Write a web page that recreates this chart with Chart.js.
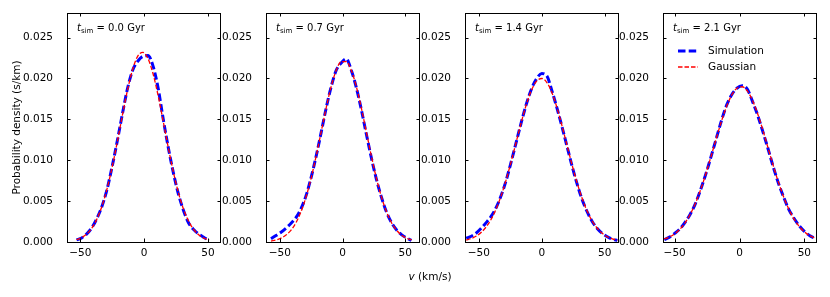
<!DOCTYPE html>
<html>
<head>
<meta charset="utf-8">
<script src="https://cdn.jsdelivr.net/npm/chart.js@4.4.0/dist/chart.umd.min.js"></script>
<style>
body { margin: 0; background: #fff; }
#fig { position: relative; width: 830px; height: 297px; font-family: "DejaVu Sans"; color: #000; }
#fig canvas { position: absolute; top: 0; }
#xlabel { position: absolute; left: 380px; width: 100px; top: 270px; text-align: center; font-size: 10.5px; }
</style>
</head>
<body>
<div id="fig">
  <canvas id="p0" width="223" height="297"></canvas>
  <canvas id="p1" width="223" height="297"></canvas>
  <canvas id="p2" width="223" height="297"></canvas>
  <canvas id="p3" width="223" height="297"></canvas>
  <div id="xlabel"><i>v</i> (km/s)</div>
</div>
<script>
// Velocity distributions at four simulation times
const times = ['0.0', '0.7', '1.4', '2.1'];
const xTicks = [-50, 0, 50];
const yTicks = [0, 0.005, 0.010, 0.015, 0.020, 0.025];

const v0 = [-53, -49, -45, -41, -37, -33, -29, -25, -21, -17, -13, -9, -5, -1, 3, 7, 11, 15, 19, 23, 27, 31, 35, 39, 43, 47, 51];
const sim0 = [0.00025, 0.00050, 0.00100, 0.00175, 0.00290, 0.00440, 0.00650, 0.00930, 0.01240, 0.01570, 0.01880, 0.02100, 0.02210,
    0.02270, 0.02280, 0.02150, 0.01880, 0.01500, 0.01150, 0.00840, 0.00580, 0.00380, 0.00230, 0.00150, 0.00095, 0.00055, 0.00020];
const gauss0 = [0.00028, 0.00054, 0.00098, 0.00171, 0.00283, 0.00442, 0.00656, 0.00922, 0.01229, 0.01553, 0.01860, 0.02112, 0.02273,
    0.02319, 0.02243, 0.02056, 0.01787, 0.01472, 0.01150, 0.00851, 0.00597, 0.00397, 0.00251, 0.00150, 0.00085, 0.00046, 0.00023];

const v1 = [-57, -53, -49, -45, -41, -37, -33, -29, -25, -21, -17, -13, -9, -5, -1, 3, 7, 11, 15, 19, 23, 27, 31, 35, 39, 43, 47, 51, 55];
const sim1 = [0.00040, 0.00080, 0.00120, 0.00170, 0.00230, 0.00300, 0.00410, 0.00570, 0.00790, 0.01050, 0.01340, 0.01640, 0.01900, 0.02100,
    0.02190, 0.02240, 0.02100, 0.01890, 0.01620, 0.01320, 0.01030, 0.00770, 0.00550, 0.00370, 0.00240, 0.00150, 0.00090, 0.00050, 0.00020];
const gauss1 = [0.00012, 0.00025, 0.00047, 0.00085, 0.00146, 0.00239, 0.00373, 0.00554, 0.00782, 0.01052, 0.01346, 0.01641, 0.01903, 0.02100,
    0.02206, 0.02206, 0.02100, 0.01903, 0.01641, 0.01346, 0.01052, 0.00782, 0.00554, 0.00373, 0.00239, 0.00146, 0.00085, 0.00047, 0.00025];

const v2 = [-60, -56, -52, -48, -44, -40, -36, -32, -28, -24, -20, -16, -12, -8, -4, 0, 4, 8, 12, 16, 20, 24, 28, 32, 36, 40, 44, 48, 52, 56, 60];
const sim2 = [0.00045, 0.00070, 0.00110, 0.00170, 0.00240, 0.00320, 0.00430, 0.00580, 0.00770, 0.01000, 0.01240, 0.01480, 0.01700, 0.01880, 0.02000,
    0.02060, 0.02030, 0.01850, 0.01640, 0.01410, 0.01170, 0.00930, 0.00710, 0.00520, 0.00370, 0.00250, 0.00165, 0.00105, 0.00065, 0.00035, 0.00020];
const gauss2 = [0.00024, 0.00043, 0.00073, 0.00119, 0.00188, 0.00284, 0.00414, 0.00579, 0.00777, 0.01003, 0.01243, 0.01481, 0.01695, 0.01864, 0.01970,
    0.01999, 0.01950, 0.01827, 0.01645, 0.01423, 0.01183, 0.00944, 0.00725, 0.00534, 0.00378, 0.00257, 0.00168, 0.00106, 0.00064, 0.00037, 0.00021];

const v3 = [-58, -54, -50, -46, -42, -38, -34, -30, -26, -22, -18, -14, -10, -6, -2, 2, 6, 10, 14, 18, 22, 26, 30, 34, 38, 42, 46, 50, 54, 58];
const sim3 = [0.00030, 0.00060, 0.00105, 0.00160, 0.00240, 0.00340, 0.00470, 0.00640, 0.00830, 0.01040, 0.01260, 0.01480, 0.01670, 0.01800, 0.01880,
    0.01910, 0.01870, 0.01720, 0.01550, 0.01350, 0.01140, 0.00920, 0.00720, 0.00550, 0.00400, 0.00290, 0.00200, 0.00130, 0.00080, 0.00045];
const gauss3 = [0.00037, 0.00062, 0.00100, 0.00155, 0.00234, 0.00339, 0.00474, 0.00639, 0.00831, 0.01043, 0.01262, 0.01472, 0.01656, 0.01797, 0.01881,
    0.01898, 0.01847, 0.01733, 0.01569, 0.01369, 0.01152, 0.00935, 0.00732, 0.00553, 0.00402, 0.00283, 0.00191, 0.00125, 0.00079, 0.00048];

const velocities = [v0, v1, v2, v3];
const simulation = [sim0, sim1, sim2, sim3];
const gaussian = [gauss0, gauss1, gauss2, gauss3];

const plotLeft = [67, 266, 465, 663];
const xMin = [-60.5, -61, -61, -59];
const xMax = [59.5, 61, 60.5, 59];

const FONT = 'DejaVu Sans';

// frame with inward ticks, time label and legend
const framePlugin = {
    id: 'frame',
    afterDatasetsDraw(chart, args, opts) {
        const { ctx, chartArea: a } = chart;
        const x = chart.scales.x, y = chart.scales.y;
        ctx.save();
        ctx.strokeStyle = '#000';
        ctx.lineWidth = 1;
        ctx.setLineDash([]);
        ctx.strokeRect(a.left + 0.5, a.top + 0.5, a.right - a.left, a.bottom - a.top);
        ctx.beginPath();
        xTicks.forEach(t => {
            const px = Math.round(x.getPixelForValue(t)) + 0.5;
            ctx.moveTo(px, a.bottom); ctx.lineTo(px, a.bottom - 3.5);
            ctx.moveTo(px, a.top); ctx.lineTo(px, a.top + 3.5);
        });
        yTicks.forEach(t => {
            const py = Math.round(y.getPixelForValue(t)) + 0.5;
            ctx.moveTo(a.left, py); ctx.lineTo(a.left + 3.5, py);
            ctx.moveTo(a.right + 1, py); ctx.lineTo(a.right - 2.5, py);
        });
        ctx.stroke();

        // t_sim label
        ctx.fillStyle = '#000';
        ctx.textBaseline = 'alphabetic';
        let tx = a.left + 10;
        const ty = a.top + 18;
        ctx.font = `italic 10px "${FONT}"`;
        ctx.fillText('t', tx, ty);
        tx += ctx.measureText('t').width;
        ctx.font = `7px "${FONT}"`;
        ctx.fillText('sim', tx, ty + 2);
        tx += ctx.measureText('sim').width;
        ctx.font = `10px "${FONT}"`;
        ctx.fillText(' = ' + opts.time + ' Gyr', tx, ty);

        if (opts.legend) {
            ctx.font = `10.5px "${FONT}"`;
            ctx.textBaseline = 'middle';
            chart.data.datasets.forEach((ds, k) => {
                const ly = a.top + 38 + k * 16;
                ctx.beginPath();
                ctx.strokeStyle = ds.borderColor;
                ctx.lineWidth = ds.borderWidth;
                ctx.setLineDash(ds.borderDash);
                ctx.moveTo(a.left + 15, ly);
                ctx.lineTo(a.left + 35, ly);
                ctx.stroke();
                ctx.fillText(ds.label, a.left + 45, ly);
            });
        }
        ctx.restore();
    }
};

for (let i = 0; i < 4; i++) {
    const canvas = document.getElementById('p' + i);
    canvas.style.left = (plotLeft[i] - 67) + 'px';
    const v = velocities[i];
    new Chart(canvas.getContext('2d'), {
        type: 'line',
        data: {
            datasets: [{
                label: 'Simulation',
                data: v.map((vx, k) => ({ x: vx, y: simulation[i][k] })),
                borderColor: '#0000ff',
                borderWidth: 3,
                borderDash: [7.5, 3.2],
                pointRadius: 0,
                cubicInterpolationMode: 'monotone',
                order: 1
            }, {
                label: 'Gaussian',
                data: v.map((vx, k) => ({ x: vx, y: gaussian[i][k] })),
                borderColor: '#ff0000',
                borderWidth: 1.3,
                borderDash: [4.5, 2],
                pointRadius: 0,
                cubicInterpolationMode: 'monotone',
                order: 0
            }]
        },
        options: {
            responsive: false,
            animation: false,
            devicePixelRatio: 1,
            layout: { padding: { left: 0, right: 3, top: 13, bottom: 0 }, autoPadding: false },
            plugins: {
                legend: { display: false },
                tooltip: { enabled: false },
                frame: { time: times[i], legend: i === 3 }
            },
            scales: {
                x: {
                    type: 'linear',
                    min: xMin[i],
                    max: xMax[i],
                    grid: { display: false },
                    border: { display: false },
                    afterBuildTicks: s => { s.ticks = xTicks.map(value => ({ value })); },
                    afterFit: s => { s.height = 55; },
                    ticks: {
                        padding: -3,
                        color: '#000',
                        maxRotation: 0,
                        autoSkip: false,
                        font: { family: FONT, size: 10.5 },
                        callback: val => val < 0 ? '\u2212' + Math.abs(val) : String(val)
                    }
                },
                y: {
                    min: 0,
                    max: 0.028,
                    grid: { display: false },
                    border: { display: false },
                    afterBuildTicks: s => { s.ticks = yTicks.map(value => ({ value })); },
                    afterFit: s => { s.width = 67; },
                    ticks: {
                        padding: 6,
                        color: '#000',
                        font: { family: FONT, size: 10.5 },
                        callback: val => val.toFixed(3)
                    },
                    title: {
                        display: i === 0,
                        text: 'Probability density (s/km)',
                        color: '#000',
                        font: { family: FONT, size: 10.5 },
                        padding: { top: 11, bottom: 0 }
                    }
                }
            }
        },
        plugins: [framePlugin]
    });
}
</script>
</body>
</html>
